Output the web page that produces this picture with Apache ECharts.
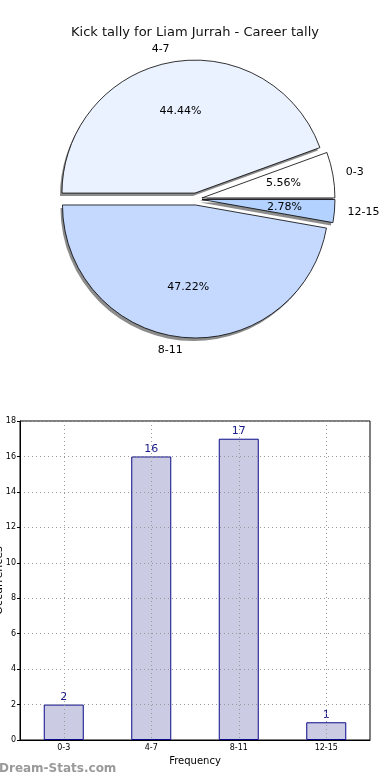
<!DOCTYPE html>
<html>
<head>
<meta charset="utf-8">
<script src="https://cdn.jsdelivr.net/npm/echarts@6/dist/echarts.min.js"></script>
<style>
html,body{margin:0;padding:0;background:#fff;}
#c{width:390px;height:780px;}
</style>
</head>
<body>
<div id="c"></div>
<script>
const titleText = 'Kick tally for Liam Jurrah - Career tally';
const categories = ['0-3', '4-7', '8-11', '12-15'];
const counts = [2, 16, 17, 1];
const pieColors = ['#ffffff', '#eaf1ff', '#c5d9ff', '#b3d2ff'];
const yTicks = [0, 2, 4, 6, 8, 10, 12, 14, 16, 18];
const xName = 'Frequency';
const yName = 'Occurrences';
const watermark = 'Dream-Stats.com';

const FONT = 'DejaVu Sans';
const CX = 196, CY = 199, R = 133, EXPL = 6;

const chart = echarts.init(document.getElementById('c'), null, {renderer: 'canvas'});

const pieBase = {
  type: 'pie',
  center: [CX, CY],
  radius: [0, R],
  startAngle: 0,
  clockwise: false,
  selectedMode: 'multiple',
  selectedOffset: EXPL,
  avoidLabelOverlap: false,
  silent: true,
  animation: false,
  emphasis: {disabled: true}
};

const shadowData = categories.map((c, i) => ({name: c, value: counts[i], selected: true}));
const mainData = categories.map((c, i) => ({name: c, value: counts[i], selected: true,
  itemStyle: {color: pieColors[i]}}));

chart.setOption({
  animation: false,
  title: {
    text: titleText,
    left: 'center',
    top: 21,
    textStyle: {fontFamily: FONT, fontSize: 13, fontWeight: 'normal', color: '#111'}
  },
  grid: {
    left: 20, right: 20, top: 421, bottom: 40,
    containLabel: false,
    outerBoundsMode: 'none',
    show: true, borderColor: '#000', borderWidth: 1, backgroundColor: 'transparent'
  },
  xAxis: {
    type: 'category',
    data: categories,
    z: 3,
    name: xName,
    nameLocation: 'middle',
    nameGap: 16,
    nameMoveOverlap: false,
    nameTextStyle: {fontFamily: FONT, fontSize: 10, color: '#000'},
    axisLine: {lineStyle: {color: '#000'}},
    axisTick: {show: false},
    axisLabel: {fontFamily: FONT, fontSize: 8, color: '#000', margin: 4},
    splitLine: {show: true, alignWithLabel: true, lineStyle: {color: '#999', type: [1, 3], width: 1}}
  },
  yAxis: {
    type: 'value',
    min: 0, max: 18, interval: 2,
    z: 3,
    name: yName,
    nameLocation: 'middle',
    nameRotate: 90,
    nameGap: 15.5,
    nameMoveOverlap: false,
    nameTextStyle: {fontFamily: FONT, fontSize: 11, color: '#000'},
    axisLine: {show: true, lineStyle: {color: '#000'}},
    axisTick: {show: true, length: 3, lineStyle: {color: '#000'}},
    axisLabel: {fontFamily: FONT, fontSize: 8, color: '#000', margin: 4,
      formatter: v => (yTicks.indexOf(v) >= 0 ? String(v) : '')},
    splitLine: {show: true, lineStyle: {color: '#999', type: [1, 3], width: 1}}
  },
  graphic: [{
    type: 'text', left: -1, top: 763, silent: true,
    style: {text: watermark, fontFamily: FONT, fontSize: 12, fontWeight: 'bold', fill: '#9a9a9a'}
  }],
  series: [
    Object.assign({}, pieBase, {
      center: [CX - 2, CY + 3],
      z: 1,
      data: shadowData,
      itemStyle: {color: '#8c8c8c', borderWidth: 0},
      label: {show: false},
      labelLine: {show: false}
    }),
    Object.assign({}, pieBase, {
      z: 2,
      data: mainData,
      itemStyle: {borderColor: '#000', borderWidth: 0.8},
      label: {show: true, position: 'outside', formatter: '{b}', fontFamily: FONT, fontSize: 11, color: '#000', distanceToLabelLine: 0},
      labelLine: {show: false, length: Math.round(R * 0.1), length2: 0}
    }),
    Object.assign({}, pieBase, {
      z: 3,
      radius: [R * 0.2, R],
      data: categories.map((c, i) => ({name: c, value: counts[i], selected: true})),
      itemStyle: {color: 'rgba(0,0,0,0)', borderWidth: 0},
      label: {show: true, position: 'inside', formatter: '{d}%', fontFamily: FONT, fontSize: 11, color: '#000'},
      labelLine: {show: false}
    }),
    {
      type: 'bar',
      data: counts,
      barWidth: 40,
      z: 2,
      silent: true,
      itemStyle: {color: '#cbcbe3', borderColor: '#0a0a8a', borderWidth: 1},
      label: {show: true, position: 'top', distance: 2, fontFamily: FONT, fontSize: 11, color: '#1a1a8a'}
    }
  ]
});
</script>
</body>
</html>
